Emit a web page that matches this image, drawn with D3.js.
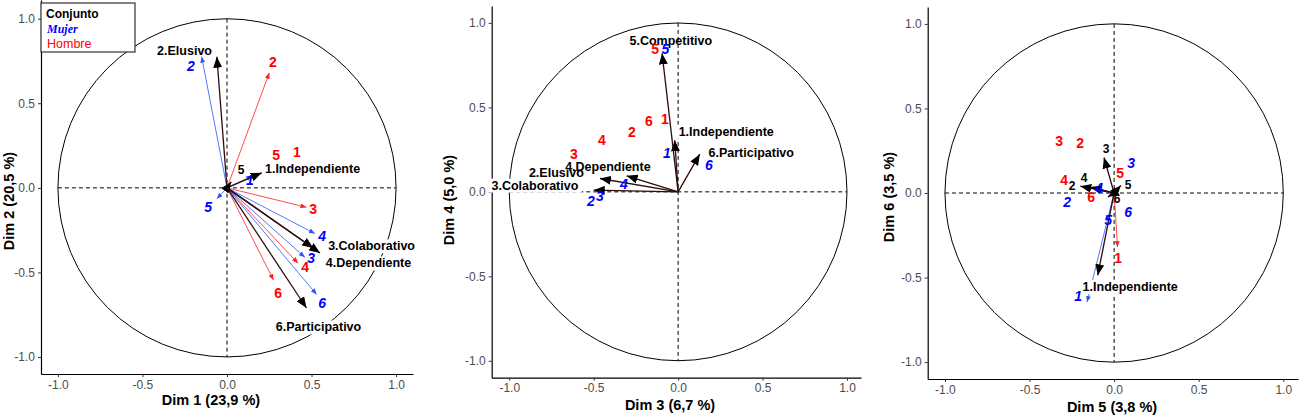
<!DOCTYPE html>
<html>
<head>
<meta charset="utf-8">
<script src="https://cdnjs.cloudflare.com/ajax/libs/d3/7.8.5/d3.min.js"></script>
<style>
  body { margin: 0; background: #fff; }
  svg { display: block; font-family: "Liberation Sans", Arial, sans-serif; }
  .tick text { fill: #4d4d4d; font-size: 12px; }
  .tick line { stroke: #333; }
</style>
</head>
<body>
<svg id="chart" width="1300" height="416"></svg>
<script>
'use strict';

var ticks = [-1, -0.5, 0, 0.5, 1];
var xTitles = ['Dim 1 (23,9 %)', 'Dim 3 (6,7 %)', 'Dim 5 (3,8 %)'];
var yTitles = ['Dim 2 (20,5 %)', 'Dim 4 (5,0 %)', 'Dim 6 (3,5 %)'];
var legendItems = ['Conjunto', 'Mujer', 'Hombre'];
var numbers = ['1', '2', '3', '4', '5', '6'];
var styleNames = ['1.Independiente', '2.Elusivo', '3.Colaborativo',
                  '4.Dependiente', '5.Competitivo', '6.Participativo'];

// Dim 1 / Dim 2
var conjunto12 = [[0.206, 0.089], [-0.06, 0.775], [0.51, -0.355], [0.55, -0.385], [0.025, 0.035], [0.47, -0.71]];
var conjunto12Text = ['1.Independiente', '2.Elusivo', '3.Colaborativo', '4.Dependiente', '5', '6.Participativo'];
var conjunto12Lab = [[0.506, 0.112], [-0.251, 0.811], [0.855, -0.343], [0.837, -0.444], [0.083, 0.107], [0.541, -0.822]];
var mujer12 = [[0.15, 0.07], [-0.15, 0.775], [0.46, -0.41], [0.52, -0.27], [-0.06, -0.065], [0.53, -0.63]];
var mujer12Lab = [[0.136, 0.047], [-0.213, 0.722], [0.497, -0.414], [0.562, -0.284], [-0.112, -0.112], [0.562, -0.68]];
var hombre12 = [null, [0.25, 0.68], [0.47, -0.115], [0.42, -0.445], null, [0.275, -0.545]];
var hombre12Lab = [[0.414, 0.213], [0.272, 0.746], [0.509, -0.124], [0.462, -0.467], [0.29, 0.195], [0.302, -0.621]];

// Dim 3 / Dim 4
var conjunto34 = [[-0.02, 0.305], [-0.463, 0.079], [-0.5, 0.01], [-0.305, 0.095], [-0.095, 0.82], [0.128, 0.223]];
var conjunto34Text = styleNames;
var conjunto34Lab = [[0.285, 0.359], [-0.721, 0.113], [-0.848, 0.04], [-0.416, 0.152], [-0.043, 0.898], [0.433, 0.235]];
var mujer34 = [null, null, null, null, null, null];
var mujer34Lab = [[-0.067, 0.229], [-0.517, -0.055], [-0.463, -0.025], [-0.321, 0.046], [-0.076, 0.844], [0.182, 0.158]];
var hombre34 = [null, null, null, null, null, null];
var hombre34Lab = [[-0.079, 0.43], [-0.274, 0.353], [-0.617, 0.223], [-0.451, 0.306], [-0.136, 0.844], [-0.173, 0.418]];

// Dim 5 / Dim 6
var conjunto56 = [[-0.097, -0.487], [-0.14, 0.035], [-0.06, 0.21], [-0.2, 0.04], [0.04, 0.045], [-0.037, -0.024]];
var conjunto56Text = ['1.Independiente', '2', '3', '4', '5', '6'];
var conjunto56Lab = [[0.095, -0.552], [-0.249, 0.046], [-0.047, 0.264], [-0.178, 0.093], [0.083, 0.051], [0.018, -0.031]];
var mujer56 = [[-0.16, -0.645], null, null, [-0.1, 0.016], null, null];
var mujer56Lab = [[-0.213, -0.611], [-0.278, -0.055], [0.101, 0.176], [-0.089, 0.028], [-0.036, -0.162], [0.083, -0.114]];
var hombre56 = [[0.02, -0.32], null, null, null, null, null];
var hombre56Lab = [[0.024, -0.386], [-0.201, 0.294], [-0.325, 0.306], [-0.296, 0.075], [0.036, 0.117], [-0.136, -0.025]];

var panels = [
  { xd: [-1.1, 1.1],     xr: [41, 413],    yd: [-1.1, 1.11], yr: [374, 0],
    xt: 211, yt: 201, xtY: 405, ytX: 14,
    conj: conjunto12, conjText: conjunto12Text, conjLab: conjunto12Lab,
    muj: mujer12, mujLab: mujer12Lab, hom: hombre12, homLab: hombre12Lab,
    boxed: ['3.Colaborativo', '4.Dependiente', '6.Participativo'] },
  { xd: [-1.104, 1.083], xr: [491.7, 861], yd: [-1.1, 1.1],  yr: [377.7, 6],
    xt: 670, yt: 200, xtY: 410, ytX: 454,
    conj: conjunto34, conjText: conjunto34Text, conjLab: conjunto34Lab,
    muj: mujer34, mujLab: mujer34Lab, hom: hombre34, homLab: hombre34Lab,
    boxed: ['3.Colaborativo', '1.Independiente', '6.Participativo'] },
  { xd: [-1.102, 1.087], xr: [927.7, 1298], yd: [-1.1, 1.1],  yr: [379, 7],
    xt: 1112, yt: 197, xtY: 412, ytX: 894,
    conj: conjunto56, conjText: conjunto56Text, conjLab: conjunto56Lab,
    muj: mujer56, mujLab: mujer56Lab, hom: hombre56, homLab: hombre56Lab,
    boxed: ['1.Independiente'] }
];

var colors = { conj: '#000', conjLine: '#2e0d0d', muj: '#0000ff', mujLine: '#2a55ff', hom: '#ff0000', homLine: '#ff2020' };

var svg = d3.select('#chart');
var defs = svg.append('defs');

function marker(id, len, wid, fill) {
  defs.append('marker')
    .attr('id', id)
    .attr('markerUnits', 'userSpaceOnUse')
    .attr('viewBox', '0 0 ' + len + ' ' + wid)
    .attr('refX', len).attr('refY', wid / 2)
    .attr('markerWidth', len).attr('markerHeight', wid)
    .attr('orient', 'auto')
    .append('path')
    .attr('d', 'M0,0L' + len + ',' + (wid / 2) + 'L0,' + wid + 'Z')
    .attr('fill', fill);
}
marker('head-conj', 11, 9, '#000');
marker('head-muj', 6, 5, colors.mujLine);
marker('head-hom', 6, 5, colors.homLine);

function fmtTick(d) { return d.toFixed(1); }

panels.forEach(function(p, pi) {

  var x = d3.scaleLinear().domain(p.xd).range(p.xr);
  var y = d3.scaleLinear().domain(p.yd).range(p.yr);
  var g = svg.append('g');

  // unit circle and dashed axes
  g.append('circle')
    .attr('cx', x(0)).attr('cy', y(0))
    .attr('r', x(1) - x(0))
    .attr('fill', 'none').attr('stroke', '#000').attr('stroke-width', 1);

  g.append('line')
    .attr('x1', x(-1)).attr('x2', x(1)).attr('y1', y(0)).attr('y2', y(0))
    .attr('stroke', '#000').attr('stroke-dasharray', '4,3');
  g.append('line')
    .attr('x1', x(0)).attr('x2', x(0)).attr('y1', y(1)).attr('y2', y(-1))
    .attr('stroke', '#000').attr('stroke-dasharray', '4,3');

  // axes
  var xAxis = g.append('g')
    .attr('transform', 'translate(0,' + p.yr[0] + ')')
    .call(d3.axisBottom(x).tickValues(ticks).tickFormat(fmtTick).tickSize(3).tickSizeOuter(0).tickPadding(3));
  var yAxis = g.append('g')
    .attr('transform', 'translate(' + p.xr[0] + ',0)')
    .call(d3.axisLeft(y).tickValues(ticks).tickFormat(fmtTick).tickSize(3).tickSizeOuter(0).tickPadding(3));
  [xAxis, yAxis].forEach(function(a) {
    a.select('.domain').attr('stroke', '#000').attr('stroke-width', 1.2);
    a.selectAll('.tick text').style('font-family', '"Liberation Sans", Arial, sans-serif');
  });

  g.append('text')
    .attr('x', p.xt).attr('y', p.xtY)
    .attr('text-anchor', 'middle')
    .style('font-size', '14.5px').style('font-weight', 'bold')
    .text(xTitles[pi]);
  g.append('text')
    .attr('transform', 'translate(' + p.ytX + ',' + p.yt + ') rotate(-90)')
    .attr('text-anchor', 'middle')
    .style('font-size', '14.5px').style('font-weight', 'bold')
    .text(yTitles[pi]);

  // arrows
  function arrows(data, stroke, width, head) {
    g.append('g').selectAll('line')
      .data(data.filter(function(d) { return d; }))
      .enter().append('line')
      .attr('x1', x(0)).attr('y1', y(0))
      .attr('x2', function(d) { return x(d[0]); })
      .attr('y2', function(d) { return y(d[1]); })
      .attr('stroke', stroke)
      .attr('stroke-width', width)
      .attr('marker-end', 'url(#' + head + ')');
  }
  arrows(p.hom, colors.homLine, 0.8, 'head-hom');
  arrows(p.muj, colors.mujLine, 0.8, 'head-muj');
  arrows(p.conj, colors.conjLine, 1.3, 'head-conj');

  // black labels; white boxes go in a layer below all label texts
  var boxLayer = g.append('g');
  var labels = g.append('g').selectAll('text')
    .data(p.conjText)
    .enter().append('text')
    .attr('x', function(d, i) { return x(p.conjLab[i][0]); })
    .attr('y', function(d, i) { return y(p.conjLab[i][1]); })
    .attr('dy', '0.36em')
    .attr('text-anchor', 'middle')
    .style('font-weight', 'bold')
    .style('font-size', function(d) { return d.length > 1 ? '12.5px' : '12px'; })
    .attr('fill', colors.conj)
    .text(function(d) { return d; });
  labels.each(function(d) {
    if (p.boxed.indexOf(d) < 0) return;
    var bb = this.getBBox();
    boxLayer.append('rect')
      .attr('x', bb.x - 3).attr('y', bb.y)
      .attr('width', bb.width + 6).attr('height', bb.height)
      .attr('fill', '#fff');
  });

  function numLabels(pos, fill, italic) {
    g.append('g').selectAll('text')
      .data(numbers)
      .enter().append('text')
      .attr('x', function(d, i) { return x(pos[i][0]); })
      .attr('y', function(d, i) { return y(pos[i][1]); })
      .attr('dy', '0.36em')
      .attr('text-anchor', 'middle')
      .style('font-weight', 'bold')
      .style('font-style', italic ? 'italic' : 'normal')
      .style('font-size', '14px')
      .attr('fill', fill)
      .text(function(d) { return d; });
  }
  numLabels(p.homLab, colors.hom, false);
  numLabels(p.mujLab, colors.muj, true);
});

// legend
var legend = svg.append('g').attr('transform', 'translate(41,3)');
legend.append('rect')
  .attr('width', 94).attr('height', 49)
  .attr('fill', '#fff').attr('stroke', '#333').attr('stroke-width', 1.2);
legend.selectAll('text')
  .data(legendItems)
  .enter().append('text')
  .attr('x', function(d, i) { return i === 0 ? 5 : 6; })
  .attr('y', function(d, i) { return 14.5 + i * 15; })
  .attr('fill', function(d, i) { return [colors.conj, colors.muj, colors.hom][i]; })
  .style('font-size', function(d, i) { return i === 2 ? '12.5px' : '12px'; })
  .style('font-weight', function(d, i) { return i === 2 ? 'normal' : 'bold'; })
  .style('font-style', function(d, i) { return i === 1 ? 'italic' : 'normal'; })
  .style('font-family', function(d, i) {
    return i === 1 ? '"Liberation Serif", "Times New Roman", serif' : '"Liberation Sans", Arial, sans-serif';
  })
  .text(function(d) { return d; });
</script>
</body>
</html>
